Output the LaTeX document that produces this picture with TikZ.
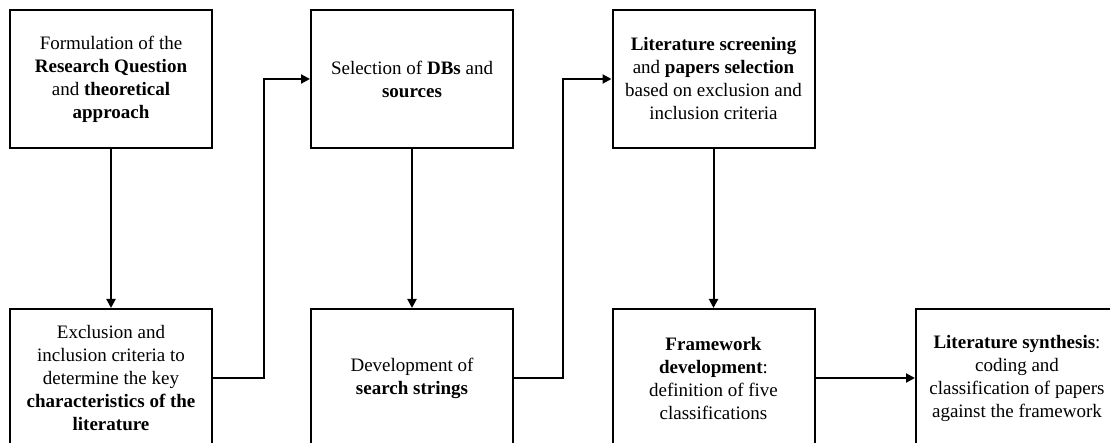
\documentclass[tikz,border=0pt]{standalone}
\usepackage{fontspec}
\setmainfont{Liberation Serif}
\usetikzlibrary{arrows.meta}
\begin{document}
\begin{tikzpicture}[x=1pt,y=-1pt,
  stepbox/.style={draw, line width=2pt, minimum width=202pt, minimum height=138pt,
    inner sep=0pt, align=center, font=\fontsize{19}{23}\selectfont},
  flow/.style={line width=2pt, -{Triangle[length=9pt,width=9pt]}}]
\clip (0,0) rectangle (1110,443);
% top row
\node[stepbox] (form) at (111,79) {Formulation of the\\ \textbf{Research Question}\\ and \textbf{theoretical}\\ \textbf{approach}};
\node[stepbox] (sel) at (412,79) {Selection of \textbf{DBs} and\\ \textbf{sources}};
\node[stepbox] (screen) at (713.5,79) {\textbf{Literature screening}\\ and \textbf{papers selection}\\ based on exclusion and\\ inclusion criteria};
% bottom row
\node[stepbox] (excl) at (111,378) {Exclusion and\\ inclusion criteria to\\ determine the key\\ \textbf{characteristics of the}\\ \textbf{literature}};
\node[stepbox] (dev) at (412,378) {Development of\\ \textbf{search strings}};
\node[stepbox] (frame) at (713.5,378) {\textbf{Framework}\\ \textbf{development}:\\ definition of five\\ classifications};
\node[stepbox] (synth) at (1017,378) {\textbf{Literature synthesis}:\\ coding and\\ classification of papers\\ against the framework};
% connectors
\draw[flow] (form.south) -- (excl.north);
\draw[flow] (excl.east) -- ++(51,0) |- (sel.west);
\draw[flow] (sel.south) -- (dev.north);
\draw[flow] (dev.east) -- ++(49,0) |- (screen.west);
\draw[flow] (screen.south) -- (frame.north);
\draw[flow] (frame.east) -- (synth.west);
\end{tikzpicture}
\end{document}
